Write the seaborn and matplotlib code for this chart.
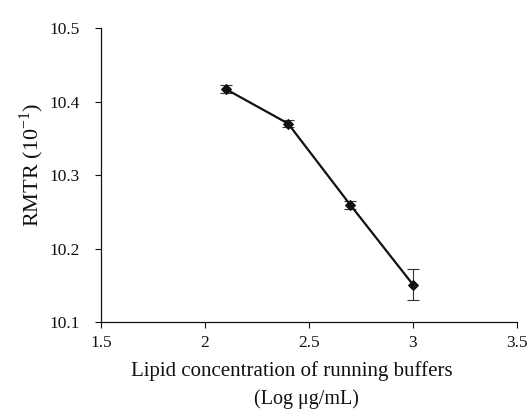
import numpy as np
import pandas as pd
import seaborn as sns
import matplotlib
matplotlib.use("Agg")
import matplotlib.pyplot as plt

# Data
log_conc = [2.1, 2.4, 2.7, 3.0]
rmtr = [10.417, 10.370, 10.259, 10.151]
rmtr_err = [0.005, 0.005, 0.005, 0.021]

x_ticks = [1.5, 2, 2.5, 3, 3.5]
x_tick_labels = ["1.5", "2", "2.5", "3", "3.5"]
y_ticks = [10.1, 10.2, 10.3, 10.4, 10.5]
y_tick_labels = ["10.1", "10.2", "10.3", "10.4", "10.5"]

df = pd.DataFrame({"x": log_conc, "y": rmtr, "err": rmtr_err})

sns.set_theme()
sns.set_style("ticks")
plt.rcParams['font.family'] = ['Liberation Serif', 'DejaVu Serif']
plt.rcParams['mathtext.fontset'] = 'custom'
plt.rcParams['mathtext.rm'] = 'Liberation Serif'

fig = plt.figure(figsize=(5.28, 4.09), dpi=100)
ax = fig.add_axes([0.191, 0.2127, 0.788, 0.7188])

# error bars
ax.errorbar(df["x"], df["y"], yerr=df["err"], fmt="none", ecolor="#333333",
            elinewidth=0.8, capsize=4, capthick=0.8, zorder=2)

sns.lineplot(data=df, x="x", y="y", ax=ax, color="#111111", linewidth=1.6,
             marker="D", markersize=5.5, markeredgecolor="#111111", zorder=3)

ax.set_xlim(1.5, 3.5)
ax.set_ylim(10.1, 10.5)
ax.set_xticks(x_ticks)
ax.set_xticklabels(x_tick_labels)
ax.set_yticks(y_ticks)
ax.set_yticklabels(y_tick_labels)
ax.tick_params(labelsize=12.5, colors="#111111", length=4, width=0.8, direction="out")
ax.tick_params(axis="y", pad=11)
ax.tick_params(axis="x", pad=5)

for side in ["top", "right"]:
  ax.spines[side].set_visible(False)
for side in ["left", "bottom"]:
  ax.spines[side].set_color("#111111")
  ax.spines[side].set_linewidth(0.9)

# x label: two lines, offset from each other as in the reference
ax.set_xlabel("")
ax.text(0.459, -0.132, "Lipid concentration of running buffers", transform=ax.transAxes,
        ha="center", va="top", fontsize=15, color="#111111")
ax.text(0.495, -0.228, "(Log \u03bcg/mL)", transform=ax.transAxes,
        ha="center", va="top", fontsize=14.5, color="#111111")

ax.set_ylabel("RMTR (10$^{\\mathregular{-1}}$)", fontsize=16, color="#111111")
ax.yaxis.set_label_coords(-0.133, 0.534)

fig.savefig("out.png", dpi=100)
